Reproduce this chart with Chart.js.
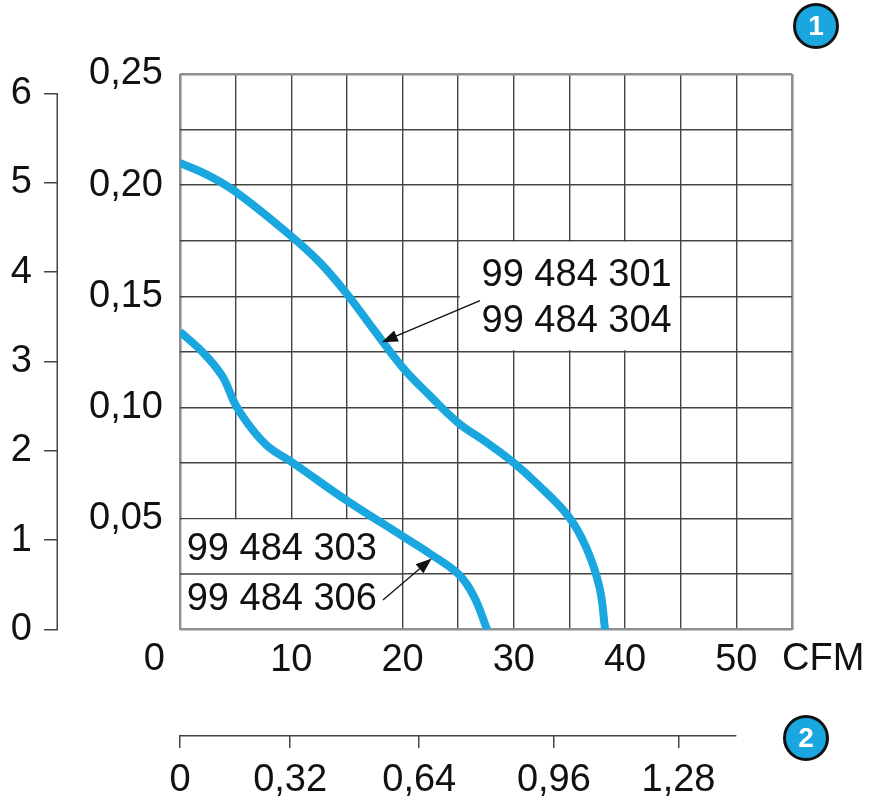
<!DOCTYPE html>
<html>
<head>
<meta charset="utf-8">
<script src="https://cdn.jsdelivr.net/npm/chart.js@4/dist/chart.umd.min.js"></script>
<style>
  html, body { margin: 0; padding: 0; background: #ffffff; }
  #wrap { width: 870px; height: 805px; position: relative; }
</style>
</head>
<body>
<div id="wrap"><canvas id="c"></canvas></div>
<script>
// ---- Data ----
// Curve 1: 99 484 301 / 99 484 304  (airflow CFM, static pressure)
const upperCfm      = [0, 2.5, 5, 10, 12.6, 15, 17.4, 20, 22.5, 25, 27.6, 30, 32, 34.9, 36.5, 37.7, 38.2];
const upperPressure = [0.210, 0.2045, 0.197, 0.177, 0.165, 0.151, 0.135, 0.118, 0.105, 0.093, 0.084, 0.075, 0.066, 0.051, 0.037, 0.019, 0];
// Curve 2: 99 484 303 / 99 484 306
const lowerCfm      = [0, 2, 3.8, 5, 6.5, 8, 10, 15, 20, 22.5, 25, 26.4, 27.6];
const lowerPressure = [0.134, 0.125, 0.114, 0.101, 0.090, 0.082, 0.0755, 0.058, 0.042, 0.034, 0.025, 0.015, 0];

const upperLabels = ['99 484 301', '99 484 304'];
const lowerLabels = ['99 484 303', '99 484 306'];

// Secondary bottom axis: labels and the CFM value found under each tick mark
const secondaryTickLabels = ['0', '0,32', '0,64', '0,96', '1,28'];
const secondaryTickCfm    = [0, 9.9, 21.5, 33.6, 44.8];

// Left outer axis tick values
const outerAxisTicks = [0, 1, 2, 3, 4, 5, 6];

const FONT = "'Liberation Sans', Arial, Helvetica, sans-serif";
const FS = 38;
const GRID = '#444444';
const FRAME = '#8f8f8f';
const BLUE = '#1aa7e0';
const TEXT = '#111111';

Chart.defaults.font.family = FONT;
Chart.defaults.color = TEXT;

function toPts(xs, ys) { return xs.map((x, i) => ({ x: x, y: ys[i] })); }

const overlay = {
  id: 'overlay',
  beforeDatasetsDraw(chart) {
    const { ctx, scales: { x, y } } = chart;
    ctx.save();
    const clear = (x0, x1, y0, y1) => {
      const L = x.getPixelForValue(x0), R = x.getPixelForValue(x1);
      const T = y.getPixelForValue(y1), B = y.getPixelForValue(y0);
      ctx.fillStyle = '#ffffff';
      ctx.fillRect(L + 1.6, T + 1, R - L - 2.6, B - T - 2.6);
    };
    clear(25, 45, 0.125, 0.175);
    clear(0, 20, 0, 0.05);
    ctx.strokeStyle = GRID; ctx.lineWidth = 1.4;
    ctx.beginPath();
    ctx.moveTo(x.getPixelForValue(0), y.getPixelForValue(0.025));
    ctx.lineTo(x.getPixelForValue(20), y.getPixelForValue(0.025));
    ctx.stroke();
    ctx.restore();
  },
  afterDatasetsDraw(chart) {
    const { ctx, scales: { x, y } } = chart;
    ctx.save();
    const arrow = (fx, fy, tx, ty) => {
      const x1 = x.getPixelForValue(fx), y1 = y.getPixelForValue(fy);
      const x2 = x.getPixelForValue(tx), y2 = y.getPixelForValue(ty);
      const a = Math.atan2(y2 - y1, x2 - x1);
      const hl = 16, hw = 6;
      ctx.strokeStyle = '#111'; ctx.lineWidth = 1.3;
      ctx.beginPath(); ctx.moveTo(x1, y1);
      ctx.lineTo(x2 - hl * 0.8 * Math.cos(a), y2 - hl * 0.8 * Math.sin(a)); ctx.stroke();
      ctx.fillStyle = '#111';
      ctx.beginPath();
      ctx.moveTo(x2, y2);
      ctx.lineTo(x2 - hl * Math.cos(a) + hw * Math.sin(a), y2 - hl * Math.sin(a) - hw * Math.cos(a));
      ctx.lineTo(x2 - hl * Math.cos(a) - hw * Math.sin(a), y2 - hl * Math.sin(a) + hw * Math.cos(a));
      ctx.closePath(); ctx.fill();
    };
    arrow(26.96, 0.148, 18.13, 0.1293);
    arrow(18.24, 0.0133, 22.62, 0.0320);

    ctx.fillStyle = TEXT;
    ctx.font = FS + 'px ' + FONT;
    ctx.textAlign = 'left'; ctx.textBaseline = 'middle';
    ctx.fillText(upperLabels[0], x.getPixelForValue(27.1), y.getPixelForValue(0.1595));
    ctx.fillText(upperLabels[1], x.getPixelForValue(27.1), y.getPixelForValue(0.1384));
    ctx.fillText(lowerLabels[0], x.getPixelForValue(0.6), y.getPixelForValue(0.0358));
    ctx.fillText(lowerLabels[1], x.getPixelForValue(0.6), y.getPixelForValue(0.0133));
    ctx.restore();
  },
  afterDraw(chart) {
    const { ctx, scales: { x, y, y2, x2 } } = chart;
    ctx.save();
    ctx.strokeStyle = GRID; ctx.lineWidth = 1.5;
    ctx.beginPath();
    ctx.moveTo(y2.right - 0.75, y2.getPixelForValue(6));
    ctx.lineTo(y2.right - 0.75, y2.getPixelForValue(0));
    ctx.stroke();
    ctx.beginPath();
    ctx.moveTo(x.getPixelForValue(0) - 0.75, x2.top + 0.75);
    ctx.lineTo(x.getPixelForValue(50), x2.top + 0.75);
    ctx.stroke();
    ctx.fillStyle = TEXT;
    ctx.font = FS + 'px ' + FONT;
    ctx.textBaseline = 'middle';
    const ly = x.top + 8 + 22.5;
    ctx.textAlign = 'right';
    ctx.fillText('0', x.getPixelForValue(0) - 15, ly);
    ctx.textAlign = 'left';
    ctx.fillText('CFM', x.getPixelForValue(55) - 10, ly);
    const badge = (cx, cy, t) => {
      ctx.beginPath(); ctx.arc(cx, cy, 21.5, 0, Math.PI * 2);
      ctx.fillStyle = BLUE; ctx.fill();
      ctx.lineWidth = 3; ctx.strokeStyle = '#111'; ctx.stroke();
      ctx.fillStyle = '#ffffff';
      ctx.font = 'bold 28px ' + FONT;
      ctx.textAlign = 'center'; ctx.textBaseline = 'middle';
      ctx.fillText(t, cx, cy + 1);
    };
    badge(816, 26, '1');
    badge(806, 738, '2');
    ctx.restore();
  }
};

const frameOr = (max) => (c) => (c.tick && (c.tick.value === 0 || Math.abs(c.tick.value - max) < 1e-9)) ? FRAME : GRID;
const frameW = (max) => (c) => (c.tick && (c.tick.value === 0 || Math.abs(c.tick.value - max) < 1e-9)) ? 2.6 : 1.4;

new Chart(document.getElementById('c'), {
  type: 'line',
  data: {
    datasets: [
      { label: upperLabels.join(' / '), data: toPts(upperCfm, upperPressure),
        borderColor: BLUE, borderWidth: 8, pointRadius: 0, tension: 0.4,
        borderCapStyle: 'butt', fill: false, xAxisID: 'x', yAxisID: 'y' },
      { label: lowerLabels.join(' / '), data: toPts(lowerCfm, lowerPressure),
        borderColor: BLUE, borderWidth: 8, pointRadius: 0, tension: 0.4,
        borderCapStyle: 'butt', fill: false, xAxisID: 'x', yAxisID: 'y' }
    ]
  },
  options: {
    responsive: true,
    maintainAspectRatio: false,
    animation: false,
    layout: { padding: { top: 74, right: 78, bottom: 0, left: 0 } },
    plugins: { legend: { display: false }, tooltip: { enabled: false } },
    scales: {
      x: {
        type: 'linear', position: 'bottom', min: 0, max: 55, weight: 0,
        grid: { color: frameOr(55), lineWidth: frameW(55), drawTicks: false },
        border: { display: false },
        ticks: {
          stepSize: 5, autoSkip: false, maxRotation: 0, padding: 8,
          font: { size: FS }, color: TEXT,
          callback: (v) => (v > 0 && v <= 50 && Math.round(v) % 10 === 0) ? String(v) : ''
        },
        afterFit: (s) => { s.height = 105.5; }
      },
      x2: {
        type: 'linear', position: 'bottom', min: 0, max: 55, weight: 1,
        grid: { drawOnChartArea: false, drawTicks: true, tickLength: 13, color: GRID, lineWidth: 1.5 },
        border: { display: false },
        afterBuildTicks: (s) => { s.ticks = secondaryTickCfm.map(v => ({ value: v })); },
        ticks: {
          autoSkip: false, maxRotation: 0, padding: 10, font: { size: FS }, color: TEXT,
          callback: (v, i) => secondaryTickLabels[i]
        },
        afterFit: (s) => { s.height = 70; }
      },
      y: {
        type: 'linear', position: 'left', min: 0, max: 0.25, weight: 0,
        grid: { color: frameOr(0.25), lineWidth: frameW(0.25), drawTicks: false },
        border: { display: false },
        ticks: {
          stepSize: 0.025, autoSkip: false, padding: 17, font: { size: FS }, color: TEXT,
          callback: (v) => (v > 0 && Math.round(v * 1000) % 50 === 0) ? v.toFixed(2).replace('.', ',') : ''
        },
        afterFit: (s) => { s.width = 122; }
      },
      y2: {
        type: 'linear', position: 'left', min: 0, max: 6.218, weight: 1,
        grid: { drawOnChartArea: false, drawTicks: true, tickLength: 14, color: GRID, lineWidth: 1.5 },
        border: { display: false },
        afterBuildTicks: (s) => { s.ticks = outerAxisTicks.map(v => ({ value: v })); },
        ticks: { autoSkip: false, padding: 12, font: { size: FS }, color: TEXT,
          callback: (v) => String(v) },
        afterFit: (s) => { s.width = 58; }
      }
    }
  },
  plugins: [overlay]
});
</script>
</body>
</html>
